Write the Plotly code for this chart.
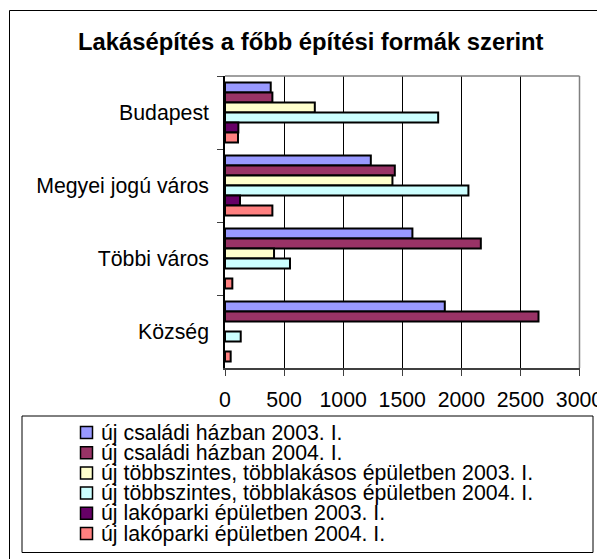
import plotly.graph_objects as go

# Page body has an 8px default margin, so the figure is laid out in
# screen coordinates shifted by OFF.
OFF = 8
FW, FH = 597, 551

categories = ["Budapest", "Megyei jogú város", "Többi város", "Község"]
series_names = [
    "új családi házban 2003. I.",
    "új családi házban 2004. I.",
    "új többszintes, többlakásos épületben 2003. I.",
    "új többszintes, többlakásos épületben 2004. I.",
    "új lakóparki épületben 2003. I.",
    "új lakóparki épületben 2004. I.",
]
csaladi_2003 = [387, 1234, 1586, 1860]
csaladi_2004 = [401, 1437, 2165, 2653]
tobbszintes_2003 = [760, 1417, 415, None]
tobbszintes_2004 = [1804, 2060, 550, 133]
lakopark_2003 = [113, 127, None, None]
lakopark_2004 = [110, 401, 62, 48]
series_values = [csaladi_2003, csaladi_2004, tobbszintes_2003,
                 tobbszintes_2004, lakopark_2003, lakopark_2004]
colors = ["#9999FF", "#993366", "#FFFFCC", "#CCFFFF", "#660066", "#FF8080"]
x_ticks = [0, 500, 1000, 1500, 2000, 2500, 3000]
title = "Lakásépítés a főbb építési formák szerint"

FONT = "Liberation Sans, Arial, sans-serif"
FS = 21.3


def px(x):
    return (x - OFF) / FW


def py(y):
    return 1 - (y - OFF) / FH


fig = go.Figure()
for name, vals, col in zip(series_names, series_values, colors):
    fig.add_trace(go.Bar(
        y=categories, x=vals, name=name, orientation="h",
        marker=dict(color=col, line=dict(color="black", width=2)),
        showlegend=False,
    ))

PL, PR, PT, PB = 225, 579.5, 76, 368

shapes = []
annotations = []
# outer chart frame
shapes.append(dict(type="rect", xref="paper", yref="paper",
                   x0=px(9.5), x1=px(640), y0=py(10.5), y1=py(600),
                   line=dict(color="black", width=1), layer="below"))
# plot-area border (top and right)
shapes.append(dict(type="line", xref="paper", yref="paper",
                   x0=px(PL), x1=px(PR), y0=py(PT), y1=py(PT),
                   line=dict(color="#808080", width=1.5), layer="above"))
shapes.append(dict(type="line", xref="paper", yref="paper",
                   x0=px(PR), x1=px(PR), y0=py(PT), y1=py(PB),
                   line=dict(color="#808080", width=1.5), layer="above"))
# legend box
shapes.append(dict(type="rect", xref="paper", yref="paper",
                   x0=px(22), x1=px(593), y0=py(416), y1=py(552.5),
                   line=dict(color="black", width=1), fillcolor="white",
                   layer="below"))
row0, step = 432.5, 20.2
for i, (name, col) in enumerate(zip(series_names, colors)):
    cy = row0 + i * step
    shapes.append(dict(type="rect", xref="paper", yref="paper",
                       x0=px(80.5), x1=px(92.5), y0=py(cy - 6), y1=py(cy + 6),
                       line=dict(color="black", width=1.5), fillcolor=col,
                       layer="above"))
    annotations.append(dict(text=name, xref="paper", yref="paper",
                            x=px(99), y=py(cy), xanchor="left", yanchor="middle",
                            showarrow=False,
                            font=dict(family=FONT, size=FS, color="black")))

annotations.append(dict(text="<b>" + title + "</b>", xref="paper", yref="paper",
                        x=px(310.5), y=py(42), xanchor="center", yanchor="middle",
                        showarrow=False,
                        font=dict(family=FONT, size=23.8, color="black")))

fig.update_layout(
    template="none",
    width=FW, height=FH, autosize=False,
    margin=dict(l=0, r=0, t=0, b=0, pad=0),
    paper_bgcolor="white", plot_bgcolor="white",
    barmode="group", bargap=0.18, bargroupgap=0,
    font=dict(family=FONT, size=FS, color="black"),
    shapes=shapes, annotations=annotations,
    xaxis=dict(
        automargin=False,
        domain=[px(PL), px(PR)], range=[0, 3000],
        tickvals=x_ticks, ticktext=[str(v) for v in x_ticks],
        showgrid=True, gridcolor="black", gridwidth=1,
        zeroline=False, showline=True, linecolor="#404040", linewidth=1.5,
        ticks="outside", ticklen=6, tickcolor="#404040",
        ticklabelstandoff=6,
        tickfont=dict(family=FONT, size=FS, color="black"),
        fixedrange=True,
    ),
    yaxis=dict(
        automargin=False,
        domain=[py(PB), py(PT)], autorange="reversed",
        type="category", tickson="boundaries",
        showgrid=False, zeroline=False,
        showline=True, linecolor="black", linewidth=1.5,
        ticks="outside", ticklen=6, tickcolor="#404040",
        ticklabelstandoff=10,
        tickfont=dict(family=FONT, size=FS, color="black"),
        fixedrange=True,
    ),
)

fig.write_html("out.html")
